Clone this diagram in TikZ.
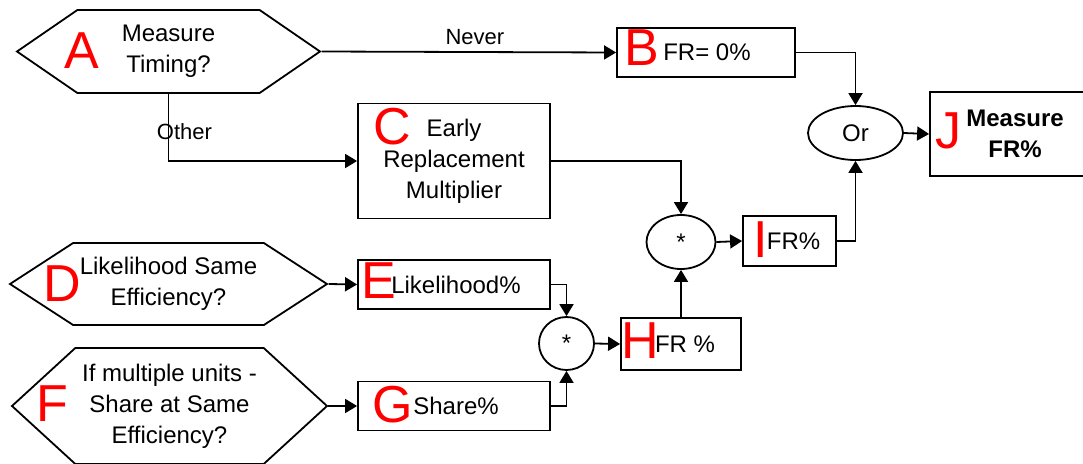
\documentclass[tikz,border=0pt]{standalone}
\usepackage{fontspec}
\setmainfont{Liberation Sans}
\usetikzlibrary{arrows.meta,shapes.geometric,shapes.symbols}

\begin{document}
\begin{tikzpicture}[x=1pt,y=-1pt,
  every node/.style={font=\fontsize{24}{31}\selectfont, align=center, inner sep=0pt},
  box/.style={draw, rectangle, line width=1.8pt},
  hexq/.style={draw, shape=signal, signal to=east and west, line width=1.8pt},
  op/.style={draw, ellipse, line width=1.8pt},
  tag/.style={text=red, font=\fontsize{52}{52}\selectfont, text depth=0pt},
  lbl/.style={font=\fontsize{22}{26}\selectfont},
  flow/.style={line width=1.8pt, -{Triangle[length=12pt,width=14pt]}}]
 \useasboundingbox (0,0) rectangle (1083,463);

 % questions
 \node (A) [hexq, signal pointer angle=69, minimum width=303, minimum height=83] at (168.5,51.5) {Measure\\Timing?};
 \node (D) [hexq, signal pointer angle=66, minimum width=317, minimum height=82] at (168.5,284) {Likelihood Same\\Efficiency?};
 \node (F) [hexq, signal pointer angle=85, minimum width=315, minimum height=116] at (169.5,406) {If multiple units -\\Share at Same\\Efficiency?};

 % value boxes
 \node (B) [box, minimum width=178, minimum height=49] at (706,52.5) {\hspace*{2pt}FR= 0\%};
 \node (C) [box, minimum width=192, minimum height=115] at (454,161) {Early\\Replacement\\Multiplier};
 \node (E) [box, minimum width=192, minimum height=49] at (454,284.5) {\hspace*{4pt}Likelihood\%};
 \node (G) [box, minimum width=192, minimum height=49] at (454,406) {\hspace*{4pt}Share\%};
 \node (H) [box, minimum width=120, minimum height=52] at (681,344) {\hspace*{8pt}FR \%};
 \node (I) [box, minimum width=93, minimum height=50] at (789.5,241) {\hspace*{8pt}FR\%};
 \node (J) [box, minimum width=156, minimum height=84, font=\bfseries\fontsize{24}{31}\selectfont] at (1008,134) {\hspace*{14pt}Measure\\\hspace*{14pt}FR\%};

 % operators
 \node (or) [op, minimum width=95, minimum height=54] at (855.5,133) {Or};
 \node (mulA) [op, minimum width=69, minimum height=54] at (681,242) {*};
 \node (mulB) [op, minimum width=55, minimum height=53] at (566.5,343.5) {*};

 % red letters
 \node (tA) [tag] at (82,51) {A};
 \node (tB) [tag] at (642,48) {B};
 \node (tC) [tag] at (392,126) {C};
 \node (tD) [tag] at (62,284) {D};
 \node (tE) [tag] at (379,281) {E};
 \node (tF) [tag] at (52,404) {F};
 \node (tG) [tag] at (393,404) {G};
 \node (tH) [tag] at (640,341) {H};
 \node (tI) [tag] at (761,240) {I};
 \node (tJ) [tag] at (948,131) {J};

 \draw[flow] (A.east) -- node[lbl, above=6pt, xshift=6pt] {Never} (B.west);
 \draw[flow] (A.south) |- node[lbl, pos=.28, xshift=16pt] {Other} (C.west);
 \draw[flow] (B.east) -| (or.north);
 \draw[flow] (or.east) -- (J.west);
 \draw[flow] (C.east) -| (mulA.north);
 \draw[flow] (mulA.east) -- (I.west);
 \draw[flow] (I.east) -| (or.south);
 \draw[flow] (D.east) -- (E.west);
 \draw[flow] (F.east) -- (G.west);
 \draw[flow] (E.east) -| (mulB.north);
 \draw[flow] (G.east) -| (mulB.south);
 \draw[flow] (mulB.east) -- (H.west);
 \draw[flow] (H.north) -- (mulA.south);
\end{tikzpicture}
\end{document}
